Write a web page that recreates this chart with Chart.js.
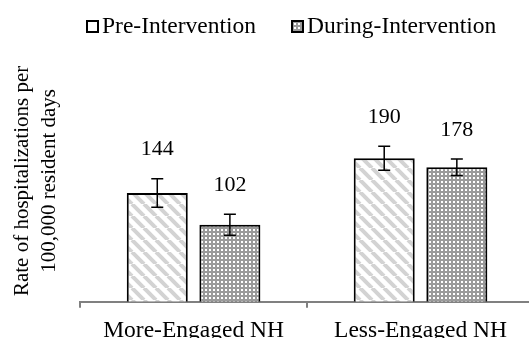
<!DOCTYPE html>
<html>
<head>
<meta charset="utf-8">
<script src="https://cdn.jsdelivr.net/npm/chart.js@4.4.1/dist/chart.umd.min.js"></script>
<style>
  html, body { margin: 0; padding: 0; width: 529px; height: 338px; overflow: hidden; background: #fff; }
  #wrap { position: relative; width: 529px; height: 338px; overflow: hidden; }
  #chart { position: absolute; left: 0; top: 0; }
  .leg { position: absolute; top: 14px; font: 23.5px 'Liberation Serif'; line-height: 23px; color: #000; white-space: nowrap; }
  .box { position: absolute; top: 20px; width: 13px; height: 13px; box-sizing: border-box; border: 2px solid #000; background: #fff; }
</style>
</head>
<body>
<div id="wrap">
  <canvas id="chart" width="534" height="354"></canvas>
  <div class="box" id="boxPre" style="left:86px"></div>
  <div class="leg" id="legPre" style="left:102px"></div>
  <div class="box" id="boxDuring" style="left:291px"></div>
  <div class="leg" id="legDuring" style="left:307px"></div>
</div>
<script>
// datos del grafico
const categories = ['More-Engaged NH', 'Less-Engaged NH'];
const seriesNames = ['Pre-Intervention', 'During-Intervention'];
const preValues = [144, 190];
const duringValues = [102, 178];
const preErrors = [19, 16];
const duringErrors = [14, 11];
const yTitle = ['Rate of hospitalizations per', '100,000 resident days'];

// patrones de relleno
function stripePattern() {
    var c = document.createElement('canvas');
    c.width = 12; c.height = 12;
    var g = c.getContext('2d');
    g.fillStyle = '#fff';
    g.fillRect(0, 0, 12, 12);
    g.strokeStyle = '#d3d3d3';
    g.lineWidth = 4;
    [-12, 0, 12].forEach(function (o) {
        g.beginPath();
        g.moveTo(o, 0);
        g.lineTo(o + 12, 12);
        g.stroke();
    });
    return c;
}

function dotTile() {
    var c = document.createElement('canvas');
    c.width = 4; c.height = 4;
    var g = c.getContext('2d');
    g.fillStyle = '#9a9a9a';
    g.fillRect(0, 0, 4, 4);
    g.fillStyle = '#fff';
    g.fillRect(1, 1, 2, 2);
    return c;
}

document.getElementById('legPre').textContent = seriesNames[0];
document.getElementById('legDuring').textContent = seriesNames[1];
var dots = dotTile();
document.getElementById('boxDuring').style.backgroundImage = 'url(' + dots.toDataURL() + ')';

var errorBars = {
    id: 'errorBars',
    afterDatasetsDraw: function (chart) {
        var ctx = chart.ctx;
        var y = chart.scales.y;
        chart.data.datasets.forEach(function (ds, i) {
            var meta = chart.getDatasetMeta(i);
            meta.data.forEach(function (bar, j) {
                var v = ds.data[j];
                var e = ds.errors[j];
                var top = y.getPixelForValue(v + e);
                var bot = y.getPixelForValue(v - e);
                ctx.save();
                ctx.strokeStyle = '#000';
                ctx.lineWidth = 1.5;
                ctx.beginPath();
                ctx.moveTo(bar.x, top); ctx.lineTo(bar.x, bot);
                ctx.moveTo(bar.x - 6, top); ctx.lineTo(bar.x + 6, top);
                ctx.moveTo(bar.x - 6, bot); ctx.lineTo(bar.x + 6, bot);
                ctx.stroke();
                ctx.font = "22px 'Liberation Serif'";
                ctx.fillStyle = '#000';
                ctx.textAlign = 'center';
                ctx.textBaseline = 'middle';
                ctx.fillText(String(v), bar.x, top - 29);
                ctx.restore();
            });
        });
    }
};

var canvas = document.getElementById('chart');
var ctx = canvas.getContext('2d');
var chart = new Chart(ctx, {
    type: 'bar',
    data: {
        labels: categories,
        datasets: [{
            label: seriesNames[0],
            data: preValues,
            errors: preErrors,
            backgroundColor: ctx.createPattern(stripePattern(), 'repeat'),
            borderColor: '#000',
            borderWidth: 2,
            barPercentage: 0.84,
            categoryPercentage: 0.64
        }, {
            label: seriesNames[1],
            data: duringValues,
            errors: duringErrors,
            backgroundColor: ctx.createPattern(dots, 'repeat'),
            borderColor: '#000',
            borderWidth: 2,
            barPercentage: 0.84,
            categoryPercentage: 0.64
        }]
    },
    options: {
        responsive: false,
        animation: false,
        layout: { padding: { top: 60, left: 0, right: 0, bottom: 0 } },
        plugins: {
            legend: { display: false },
            tooltip: { enabled: false }
        },
        scales: {
            x: {
                offset: true,
                grid: { display: true, drawOnChartArea: false, drawTicks: true, tickLength: 6, color: '#808080', lineWidth: 2, offset: true },
                border: { display: true, color: '#808080', width: 2 },
                ticks: { color: '#000', padding: 9, font: { family: 'Liberation Serif', size: 23.5 } }
            },
            y: {
                min: 0,
                max: 320,
                grid: { display: false, drawTicks: false },
                border: { display: false },
                ticks: { display: false },
                title: {
                    display: true,
                    text: yTitle,
                    color: '#000',
                    font: { family: 'Liberation Serif', size: 21, lineHeight: 1.3 },
                    padding: { top: 8.5, bottom: 17 }
                }
            }
        }
    },
    plugins: [errorBars]
});
</script>
</body>
</html>
